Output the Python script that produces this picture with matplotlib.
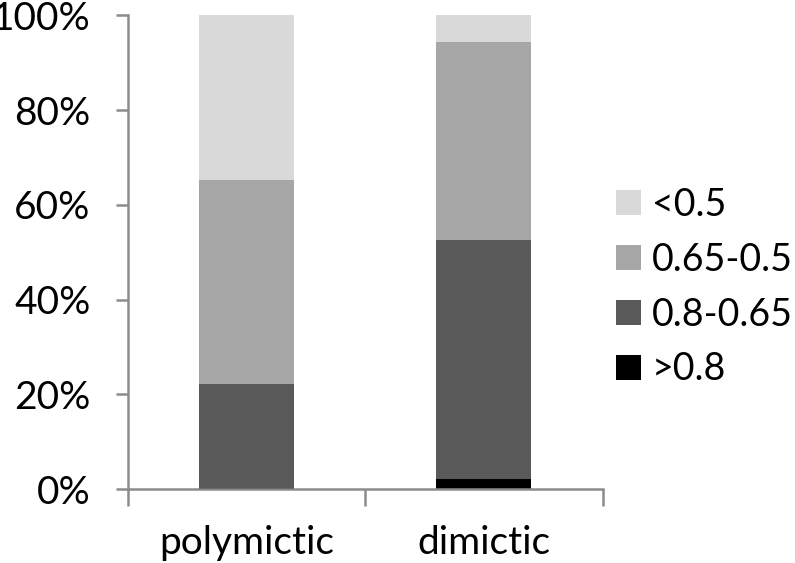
import matplotlib.pyplot as plt
from matplotlib.ticker import FixedLocator, PercentFormatter

plt.rcParams['font.family'] = ['Lato', 'DejaVu Sans']

categories = ['polymictic', 'dimictic']
series = ['>0.8', '0.8-0.65', '0.65-0.5', '<0.5']
values = {
    '>0.8': [0.3, 2.1],
    '0.8-0.65': [21.9, 50.4],
    '0.65-0.5': [43.0, 41.8],
    '<0.5': [34.8, 5.7],
}
colors = {'>0.8': '#000000', '0.8-0.65': '#595959', '0.65-0.5': '#a6a6a6', '<0.5': '#d9d9d9'}

fig = plt.figure(figsize=(7.95, 5.63), dpi=100)
ax = fig.add_axes([0.161, 0.131, 0.597, 0.842])

x = list(range(len(categories)))
bottom = [0, 0]
handles = []
for s in series:
    h = ax.bar(x, values[s], 0.4, bottom=bottom, color=colors[s], label=s)
    handles.append(h)
    bottom = [b + v for b, v in zip(bottom, values[s])]

ax.set_xlim(-0.5, 1.5)
ax.set_ylim(0, 100)
ax.yaxis.set_major_locator(FixedLocator([0, 20, 40, 60, 80, 100]))
ax.yaxis.set_major_formatter(PercentFormatter(decimals=0))

ax.set_xticks(x)
ax.set_xticklabels(categories)
ax.set_xticks([-0.5, 0.5, 1.5], minor=True)
ax.tick_params(axis='x', which='major', length=0, pad=26, labelsize=28)
ax.tick_params(axis='x', which='minor', length=12, width=1.8, color='#8c8c8c', direction='out')
ax.tick_params(axis='y', length=9, width=1.8, color='#8c8c8c', labelsize=28, pad=18)

for side in ['top', 'right']:
    ax.spines[side].set_visible(False)
for side in ['left', 'bottom']:
    ax.spines[side].set_color('#8c8c8c')
    ax.spines[side].set_linewidth(1.8)

fig.legend(handles[::-1], series[::-1], loc='center left', bbox_to_anchor=(0.775, 0.49),
           frameon=False, fontsize=27, handlelength=0.65, handleheight=0.65,
           handletextpad=0.3, labelspacing=0.5, borderpad=0, borderaxespad=0)

fig.savefig('out.png', dpi=100)
